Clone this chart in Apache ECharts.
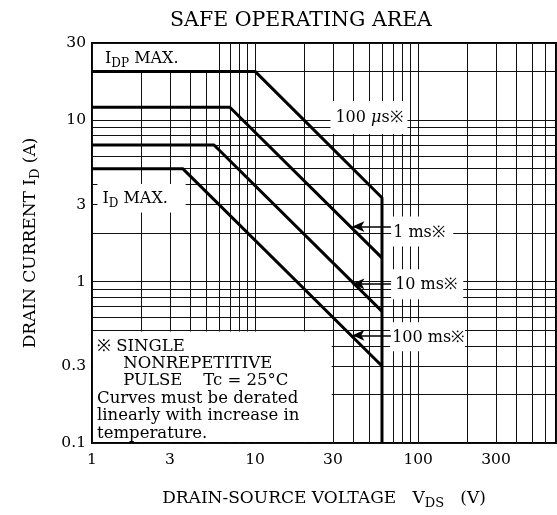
<!DOCTYPE html>
<html>
<head>
<meta charset="utf-8">
<script src="https://cdn.jsdelivr.net/npm/echarts@6/dist/echarts.min.js"></script>
<style>
  html, body { margin: 0; padding: 0; background: #fff; }
  #chart { width: 557px; height: 515px; }
</style>
</head>
<body>
<div id="chart"></div>
<script>
// grid / tick values
const xGrid = [1, 2, 3, 4, 5, 6, 7, 8, 9, 10, 20, 30, 40, 50, 60, 70, 80, 90, 100, 200, 300, 400, 500, 600, 700]
const yGrid = [0.1, 0.2, 0.3, 0.4, 0.5, 0.6, 0.7, 0.8, 0.9, 1, 2, 3, 4, 5, 6, 7, 8, 9, 10, 20, 30]
const xTickLabels = [1, 3, 10, 30, 100, 300]
const yTickLabels = [0.1, 0.3, 1, 3, 10, 30]

// SOA boundaries [VDS (V), ID (A)]
const soa100us = [[1, 20], [10, 20], [60, 3.3], [60, 0.1]]
const soa1ms = [[1, 12], [7, 12], [60, 1.4]]
const soa10ms = [[1, 7], [5.6, 7], [60, 0.653]]
const soa100ms = [[1, 5], [3.6, 5], [60, 0.3]]

const noteLines = [
  '※ SINGLE',
  '     NONREPETITIVE',
  '     PULSE    Tc = 25°C',
  'Curves must be derated',
  'linearly with increase in',
  'temperature.'
]

const FONT = 'DejaVu Serif'
const fmt = v => String(+(+v).toPrecision(3))

function subRich(size) {
  return {
    t: { fontFamily: FONT, fontSize: size, lineHeight: size + 6, color: '#000' },
    s: { fontFamily: FONT, fontSize: Math.round(size * 0.75), lineHeight: Math.round(size * 0.75), verticalAlign: 'bottom', color: '#000' },
    m: { fontFamily: FONT, fontSize: size, lineHeight: size + 6, fontStyle: 'italic', color: '#000' }
  }
}

function box(c1, c2, label) {
  return [{ coord: c1, label: Object.assign({ show: true, color: '#000', fontFamily: FONT, rich: subRich(16) }, label) }, { coord: c2 }]
}

function curve(name, data) {
  return {
    name, type: 'line', data, symbol: 'none', z: 3, silent: true,
    lineStyle: { color: '#000', width: 3 }
  }
}

const chart = echarts.init(document.getElementById('chart'))

chart.setOption({
  backgroundColor: '#fff',
  animation: false,
  graphic: [{
    type: 'text', x: 301, y: 21,
    style: { text: 'SAFE OPERATING AREA', fontFamily: FONT, fontSize: 20.5, fill: '#000', textAlign: 'center', textVerticalAlign: 'middle' }
  }],
  grid: { left: 92, right: 1, top: 43, bottom: 71, show: true, borderColor: '#000', borderWidth: 2 },
  xAxis: {
    type: 'log', logBase: 10, min: 1, max: 700,
    name: '{t|DRAIN-SOURCE VOLTAGE   V}{s|DS}{t|   (V)}',
    nameLocation: 'middle', nameGap: 44,
    nameTextStyle: { rich: subRich(17) },
    axisLine: { show: false },
    axisTick: { show: false, customValues: xGrid },
    axisLabel: { customValues: xTickLabels, formatter: fmt, margin: 9, fontFamily: FONT, fontSize: 15.5, color: '#000', showMinLabel: true, showMaxLabel: true },
    splitLine: { show: true, lineStyle: { color: '#111', width: 1 } },
    minorSplitLine: { show: false }
  },
  yAxis: {
    type: 'log', logBase: 10, min: 0.1, max: 30,
    name: '{t|DRAIN CURRENT I}{s|D}{t| (A)}',
    nameLocation: 'middle', nameGap: 50, nameRotate: 90,
    nameTextStyle: { rich: subRich(17) },
    axisLine: { show: false },
    axisTick: { show: false, customValues: yGrid },
    axisLabel: { customValues: yTickLabels, formatter: fmt, margin: 6, fontFamily: FONT, fontSize: 15.5, color: '#000', showMinLabel: true, showMaxLabel: true },
    splitLine: { show: true, lineStyle: { color: '#111', width: 1 } }
  },
  series: [
    {
      name: 'annotations', type: 'line', data: [], silent: true,
      markArea: {
        silent: true,
        itemStyle: { color: '#fff', borderWidth: 0 },
        data: [
          box([1.015, 29.6], [5.3, 20.3], { formatter: '{t|I}{s|DP}{t| MAX.}', position: 'insideLeft', distance: 12, offset: [0, 2] }),
          box([1.08, 4.02], [3.75, 2.68], { formatter: '{t|I}{s|D}{t| MAX.}', position: 'insideLeft', distance: 5, offset: [0, 1] }),
          box([29, 13.1], [86, 8.2], { formatter: '{t|100 }{m|μ}{t|s※}', position: 'inside' }),
          box([68.3, 2.53], [164, 1.65], { formatter: '{t|1 ms※}', position: 'insideLeft', distance: 2, offset: [0, 1] }),
          box([68.3, 1.19], [189, 0.776], { formatter: '{t|10 ms※}', position: 'insideLeft', distance: 4, offset: [0, 1] }),
          box([67.3, 0.56], [194, 0.37], { formatter: '{t|100 ms※}', position: 'insideLeft', distance: 2, offset: [0, 1] }),
          box([1.015, 0.49], [29.5, 0.1015], {
            formatter: noteLines.join('\n'), position: 'insideTopLeft', distance: 4,
            fontSize: 16.5, lineHeight: 17.4, rich: undefined, padding: [2, 0, 0, 0]
          })
        ]
      },
      markLine: {
        silent: true,
        symbol: ['none', 'arrow'],
        symbolSize: [8, 12],
        label: { show: false },
        lineStyle: { color: '#000', width: 1.5, type: 'solid' },
        data: [
          [{ coord: [68, 2.19] }, { coord: [39.5, 2.19] }],
          [{ coord: [68, 0.968] }, { coord: [39.5, 0.968] }],
          [{ coord: [68, 0.464] }, { coord: [39.5, 0.464] }]
        ]
      }
    },
    curve('100 µs', soa100us),
    curve('1 ms', soa1ms),
    curve('10 ms', soa10ms),
    curve('100 ms', soa100ms)
  ]
})

window.addEventListener('resize', () => chart.resize())
</script>
</body>
</html>
